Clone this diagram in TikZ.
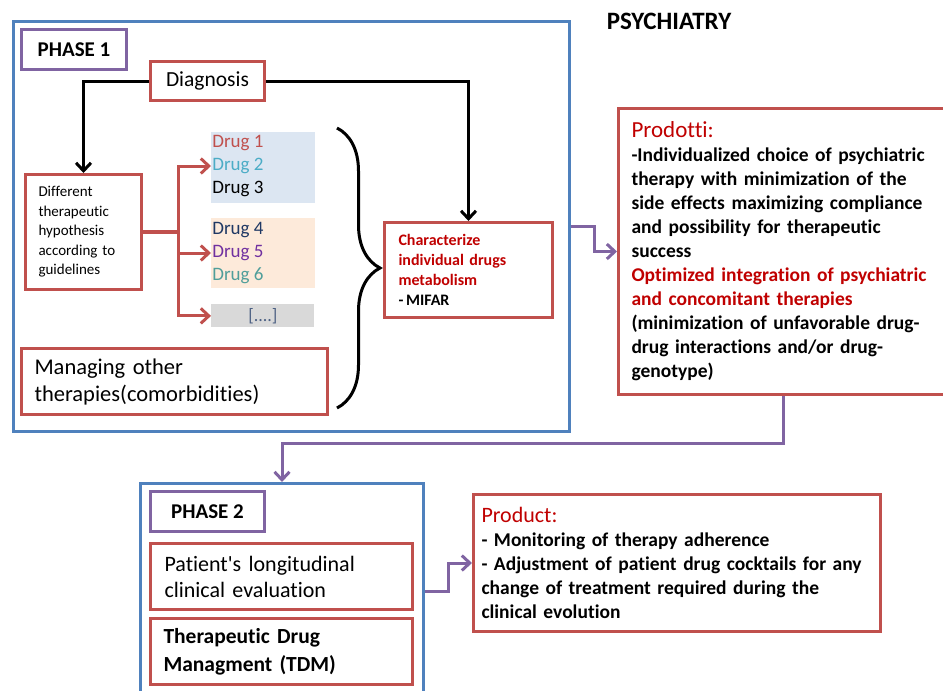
\documentclass[tikz,border=0pt]{standalone}
\usepackage{fontspec}
\setmainfont{Carlito}[Ligatures=NoCommon]
\usetikzlibrary{positioning,arrows.meta,decorations.pathreplacing}
\definecolor{frameblue}{HTML}{4F81BD}
\definecolor{framered}{HTML}{C0504D}
\definecolor{framepurple}{HTML}{8064A2}
\definecolor{darkred}{HTML}{C00000}
\definecolor{drugteal}{HTML}{4BACC6}
\definecolor{drugnavy}{HTML}{1F3864}
\definecolor{drugviolet}{HTML}{7030A0}
\definecolor{druggreen}{HTML}{4F9E9A}
\definecolor{bgblue}{HTML}{DCE6F2}
\definecolor{bgorange}{HTML}{FDEADA}
\definecolor{bggray}{HTML}{D9D9D9}
\newcommand{\setfs}[2]{\fontsize{#1}{#2}\selectfont}
\begin{document}
\begin{tikzpicture}[x=1pt,y=-1pt,thick,
  >={Straight Barb[length=8pt,width=15pt]},
  phasebox/.style={draw=frameblue,line width=3pt,anchor=north west,inner sep=0pt},
  tagbox/.style={draw=framepurple,line width=3pt,anchor=north west,inner sep=0pt,font=\setfs{21}{24}\bfseries},
  redbox/.style={draw=framered,line width=3pt,anchor=north west,inner ysep=0pt,fill=white},
  drugtxt/.style={anchor=west,inner sep=0pt,font=\setfs{19}{22}},
  blackarrow/.style={line width=3pt,->},
  redarrow/.style={draw=framered,line width=3pt,->},
  purplearrow/.style={draw=framepurple,line width=3pt,->}]
\useasboundingbox (0,0) rectangle (943,691);
\node[phasebox,minimum width=556,minimum height=410] (phaseone) at (12,20) {};
\node[tagbox,minimum width=105,minimum height=40] (tagone) at (20,28) {PHASE 1};
\node[font=\setfs{25}{28}\bfseries] (title) at (669,21) {PSYCHIATRY};
\node[redbox,minimum width=114,minimum height=39,font=\setfs{21.5}{24}] (diagnosis) at (149,60) {Diagnosis};
\node[redbox,text width=90,inner xsep=13,minimum height=115,align=left,font=\setfs{15}{19.5}] (hypothesis) at (24,173) {Different\\therapeutic\\hypothesis\\according to\\guidelines};
\node[fill=bgblue,anchor=north west,minimum width=104,minimum height=71] (groupa) at (211,132) {};
\node[fill=bgorange,anchor=north west,minimum width=104,minimum height=70] (groupb) at (211,218) {};
\node[fill=bggray,anchor=north west,minimum width=103,minimum height=23,inner sep=0pt,font=\setfs{18}{20},text=drugnavy!80] (groupc) at (211,304) {[....]};
\node[drugtxt,text=framered] (drugone) at (212,143) {Drug 1};
\node[drugtxt,text=drugteal] (drugtwo) at (212,166) {Drug 2};
\node[drugtxt,text=black] (drugthree) at (212,189) {Drug 3};
\node[drugtxt,text=drugnavy] (drugfour) at (212,230) {Drug 4};
\node[drugtxt,text=drugviolet] (drugfive) at (212,253) {Drug 5};
\node[drugtxt,text=druggreen] (drugsix) at (212,276) {Drug 6};
\node[redbox,text width=140,inner xsep=14,minimum height=95,align=left,text=darkred,font=\setfs{16}{20}\bfseries] (metabolism) at (383,221) {Characterize\\individual drugs\\metabolism\\\textcolor{black}{-\,MIFAR}};
\node[redbox,text width=280,inner xsep=13,minimum height=66,align=left,font=\setfs{22.5}{27}] (others) at (20,347) {Managing other\\therapies(comorbidities)};
\node[redbox,text width=303,inner xsep=13,minimum height=286,align=left,font=\setfs{19.5}{24}\bfseries] (prodotti) at (617,107) {\textcolor{darkred}{\setfs{23}{24}\mdseries Prodotti:}\\-Individualized choice of psychiatric\\therapy with minimization of the\\side effects maximizing compliance\\and possibility for therapeutic\\success\\\textcolor{darkred}{Optimized integration of psychiatric}\\\textcolor{darkred}{and concomitant therapies}\\(minimization of unfavorable drug-\\drug interactions and/or drug-\\genotype)};
\node[phasebox,minimum width=283,minimum height=216] (phasetwo) at (139,482) {};
\node[tagbox,minimum width=114,minimum height=40] (tagtwo) at (149,490) {PHASE 2};
\node[redbox,text width=234,inner xsep=14,minimum height=66,align=left,font=\setfs{22}{26}] (followup) at (149,542) {Patient\textquotesingle s longitudinal\\clinical evaluation};
\node[redbox,text width=236,inner xsep=13,minimum height=66,align=left,font=\setfs{21.5}{28}\bfseries] (tdm) at (149,617) {Therapeutic Drug\\Managment (TDM)};
\node[redbox,text width=391,inner xsep=8,minimum height=137,align=left,font=\setfs{19.5}{24}\bfseries] (product) at (472,493) {\textcolor{darkred}{\setfs{22}{24}\mdseries Product:}\\- Monitoring of therapy adherence\\- Adjustment of patient drug cocktails for any\\change of treatment required during the\\clinical evolution};
\draw[blackarrow] (diagnosis.west) -| (hypothesis.north);
\draw[blackarrow] (diagnosis.east) -| (metabolism.north);
\draw[draw=framered,line width=4.5pt] (hypothesis.east) -- ++(35,0) coordinate (fork);
\draw[redarrow] (fork) |- (groupa.west |- drugtwo.west);
\draw[redarrow] (fork) |- (groupb.west |- drugfive.west);
\draw[redarrow] (fork) |- (groupc.west);
\draw[line width=3pt,decorate,decoration={brace,amplitude=43pt}] (337,128) -- (337,408);
\draw[purplearrow] (phaseone.east) -- ++(23,0) |- (prodotti.west);
\draw[purplearrow] (prodotti.south) -- ++(0,47) -| (phasetwo.north);
\draw[purplearrow] (phasetwo.east) -- ++(23,0) |- (product.west);
\end{tikzpicture}
\end{document}
